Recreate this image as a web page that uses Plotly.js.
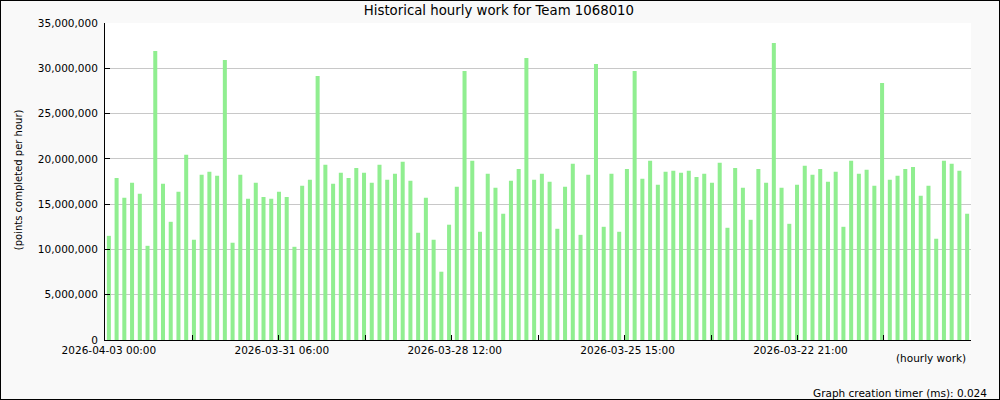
<!DOCTYPE html>
<html>
<head>
<meta charset="utf-8">
<script src="https://cdn.plot.ly/plotly-3.0.1.min.js"></script>
<style>
  html, body { margin: 0; padding: 0; background: #ffffff; }
  #chart { width: 998px; height: 398px; border: 1px solid #000; }
</style>
</head>
<body>
<div id="chart"></div>
<script>
// Points completed per hour, one bar per slot (newest first)
const pointsPerHour = [
  11500000, 17900000, 15700000, 17350000, 16140000, 10400000, 31910000, 17250000,
  13050000, 16360000, 20440000, 11070000, 18240000, 18570000, 18130000, 30910000,
  10740000, 18240000, 15590000, 17350000, 15800000, 15590000, 16360000, 15800000,
  10290000, 17030000, 17680000, 29160000, 19340000, 17250000, 18460000, 17900000,
  19000000, 18460000, 17350000, 19340000, 17680000, 18350000, 19670000, 17570000,
  11840000, 15700000, 11070000, 7540000, 12730000, 16910000, 29700000, 19780000,
  11950000, 18350000, 16800000, 13940000, 17570000, 18890000, 31140000, 17680000,
  18350000, 17460000, 12280000, 16910000, 19450000, 11610000, 18240000, 30480000,
  12500000, 18350000, 11950000, 18890000, 29700000, 17790000, 19780000, 17140000,
  18570000, 18680000, 18460000, 18680000, 18010000, 18350000, 17350000, 19560000,
  12390000, 19000000, 16800000, 13270000, 18890000, 17350000, 32790000, 16800000,
  12830000, 17140000, 19230000, 18240000, 18890000, 17460000, 18570000, 12500000,
  19780000, 18350000, 18790000, 17030000, 28380000, 17680000, 18130000, 18890000,
  19110000, 15920000, 17030000, 11180000, 19780000, 19450000, 18680000, 13940000
];

// X tick labels (every other tick carries a label)
const tickLabels = [
  "2026-04-03 00:00", "", "2026-03-31 06:00", "", "2026-03-28 12:00", "",
  "2026-03-25 15:00", "", "2026-03-22 21:00", ""
];

const titleText = "Historical hourly work for Team 1068010";
const yTitleText = "(points completed per hour)";
const xTitleText = "(hourly work)";
const footerText = "Graph creation timer (ms): 0.024";

const slots = pointsPerHour.map((_, i) => i);
const tickStep = 11.18, tickStart = -0.38;
const tickPositions = tickLabels.map((_, k) => tickStart + k * tickStep);

const FONT = "DejaVu Sans, Verdana, sans-serif";

const trace = {
  type: "bar",
  x: slots,
  y: pointsPerHour,
  marker: { color: "#90ee90", line: { width: 0 } },
  hoverinfo: "y"
};

const layout = {
  width: 998,
  height: 398,
  paper_bgcolor: "#f9f9f9",
  plot_bgcolor: "#ffffff",
  margin: { l: 104, r: 28, t: 22, b: 59, pad: 0 },
  bargap: 0.48,
  showlegend: false,
  font: { family: FONT, size: 10.5, color: "#000" },
  title: {
    text: titleText,
    font: { family: FONT, size: 13.3, color: "#000" },
    xref: "container", yref: "container",
    x: 0.4989, y: 1 - 9.5 / 398, xanchor: "center", yanchor: "middle"
  },
  xaxis: {
    range: [-0.5, pointsPerHour.length - 0.5],
    tickmode: "array",
    tickvals: tickPositions,
    ticktext: tickLabels,
    ticks: "inside",
    ticklen: 5,
    tickwidth: 1,
    tickcolor: "#000",
    ticklabelshift: 3,
    showgrid: false,
    zeroline: false,
    showline: true,
    linecolor: "#000",
    linewidth: 1,
    tickfont: { family: FONT, size: 10.5, color: "#000" },
    fixedrange: true
  },
  yaxis: {
    range: [0, 35000000],
    tickmode: "linear",
    tick0: 0,
    dtick: 5000000,
    tickformat: ",d",
    ticks: "inside",
    ticklen: 5,
    tickwidth: 1,
    tickcolor: "#000",
    ticklabelstandoff: 4,
    showgrid: true,
    gridcolor: "#c8c8c8",
    gridwidth: 1,
    zeroline: false,
    showline: true,
    linecolor: "#000",
    linewidth: 1,
    tickfont: { family: FONT, size: 10.5, color: "#000" },
    fixedrange: true
  },
  annotations: [
    {
      text: yTitleText, textangle: -90,
      xref: "paper", yref: "paper", x: 0, y: 0.5,
      xanchor: "center", yanchor: "middle",
      xshift: -86.3, yshift: 2, showarrow: false,
      font: { family: FONT, size: 10, color: "#000" }
    },
    {
      text: xTitleText,
      xref: "paper", yref: "paper", x: 1, y: 0,
      xanchor: "right", yanchor: "middle",
      xshift: -3, yshift: -18, showarrow: false,
      font: { family: FONT, size: 10.5, color: "#000" }
    },
    {
      text: footerText,
      xref: "paper", yref: "paper", x: 1, y: 0,
      xanchor: "right", yanchor: "middle",
      xshift: 18, yshift: -53, showarrow: false,
      font: { family: FONT, size: 10.5, color: "#000" }
    }
  ]
};

Plotly.newPlot("chart", [trace], layout, { displayModeBar: false, staticPlot: true });
</script>
</body>
</html>
